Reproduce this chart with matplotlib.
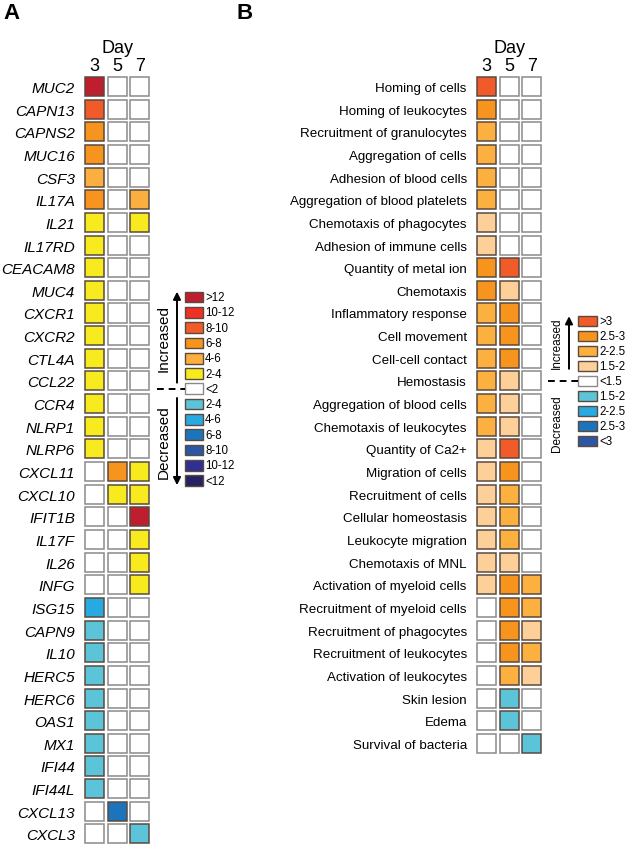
import matplotlib.pyplot as plt
from matplotlib.patches import Rectangle

plt.rcParams['font.family'] = ['Liberation Sans', 'DejaVu Sans']

# ---- data -------------------------------------------------------------
days = ['3', '5', '7']

# panel A: fold-change level, +6 (>12) ... 0 (<2) ... -6 (<12, decreased)
a_genes = ['MUC2', 'CAPN13', 'CAPNS2', 'MUC16', 'CSF3', 'IL17A', 'IL21', 'IL17RD',
           'CEACAM8', 'MUC4', 'CXCR1', 'CXCR2', 'CTL4A', 'CCL22', 'CCR4', 'NLRP1',
           'NLRP6', 'CXCL11', 'CXCL10', 'IFIT1B', 'IL17F', 'IL26', 'INFG', 'ISG15',
           'CAPN9', 'IL10', 'HERC5', 'HERC6', 'OAS1', 'MX1', 'IFI44', 'IFI44L',
           'CXCL13', 'CXCL3']
a_day3 = [6, 4, 3, 3, 2, 3, 1, 1, 1, 1, 1, 1, 1, 1, 1, 1, 1, 0, 0, 0, 0, 0, 0, -2,
          -1, -1, -1, -1, -1, -1, -1, -1, 0, 0]
a_day5 = [0, 0, 0, 0, 0, 0, 0, 0, 0, 0, 0, 0, 0, 0, 0, 0, 0, 3, 1, 0, 0, 0, 0, 0,
          0, 0, 0, 0, 0, 0, 0, 0, -3, 0]
a_day7 = [0, 0, 0, 0, 0, 2, 1, 0, 0, 0, 0, 0, 0, 0, 0, 0, 0, 1, 1, 6, 1, 1, 1, 0,
          0, 0, 0, 0, 0, 0, 0, 0, 0, -1]
a_legend = ['>12', '10-12', '8-10', '6-8', '4-6', '2-4', '<2',
            '2-4', '4-6', '6-8', '8-10', '10-12', '<12']
a_colors = ['#BE1E2D', '#EE3124', '#F15A29', '#F7941D', '#FBAF41', '#F7EA1E', '#FFFFFF',
            '#5BC4D8', '#27AAE1', '#1C75BC', '#2957A4', '#2E3192', '#262261']

# panel B: z-score level, +4 (>3) ... 0 (<1.5) ... -4 (<3, decreased)
b_funcs = ['Homing of cells', 'Homing of leukocytes', 'Recruitment of granulocytes',
           'Aggregation of cells', 'Adhesion of blood cells', 'Aggregation of blood platelets',
           'Chemotaxis of phagocytes', 'Adhesion of immune cells', 'Quantity of metal ion',
           'Chemotaxis', 'Inflammatory response', 'Cell movement', 'Cell-cell contact',
           'Hemostasis', 'Aggregation of blood cells', 'Chemotaxis of leukocytes',
           'Quantity of Ca2+', 'Migration of cells', 'Recruitment of cells',
           'Cellular homeostasis', 'Leukocyte migration', 'Chemotaxis of MNL',
           'Activation of myeloid cells', 'Recruitment of myeloid cells',
           'Recruitment of phagocytes', 'Recruitment of leukocytes',
           'Activation of leukocytes', 'Skin lesion', 'Edema', 'Survival of bacteria']
b_day3 = [4, 3, 2, 2, 2, 2, 1, 1, 3, 3, 2, 2, 2, 2, 2, 2, 1, 1, 1, 1, 1, 1, 1,
          0, 0, 0, 0, 0, 0, 0]
b_day5 = [0, 0, 0, 0, 0, 0, 0, 0, 4, 1, 3, 3, 3, 1, 1, 1, 4, 3, 2, 2, 2, 1, 3,
          3, 3, 3, 2, -1, -1, 0]
b_day7 = [0, 0, 0, 0, 0, 0, 0, 0, 0, 0, 0, 0, 0, 0, 0, 0, 0, 0, 0, 0, 0, 0, 2,
          2, 1, 2, 1, 0, 0, -1]
b_legend = ['>3', '2.5-3', '2-2.5', '1.5-2', '<1.5', '1.5-2', '2-2.5', '2.5-3', '<3']
b_colors = ['#F15A29', '#F7941D', '#FBB040', '#FDD09A', '#FFFFFF',
            '#5BC4D8', '#27AAE1', '#1C75BC', '#2B57A6']

# ---- layout helpers ---------------------------------------------------
W, H = 625, 845
fig = plt.figure(figsize=(W / 100, H / 100), dpi=100)


def px_axes(x0, y0, x1, y1):
    ax = fig.add_axes([x0 / W, 1 - y1 / H, (x1 - x0) / W, (y1 - y0) / H])
    ax.patch.set_alpha(0)
    for sp in ax.spines.values():
        sp.set_visible(False)
    return ax


def edge_of(c):
    return '#8a8a8a' if c == '#FFFFFF' else '#5a4a40'


def heatmap(ax, labels, cols, colors, zero, fs, style):
    n = len(labels)
    s = 0.84
    for j, col in enumerate(cols):
        for i, lev in enumerate(col):
            c = colors[zero - lev]
            ax.add_patch(Rectangle((j - s / 2, i - s / 2), s, s, fc=c,
                                   ec=edge_of(c), lw=1.1))
    ax.set_xlim(-0.5, 2.5)
    ax.set_ylim(n - 0.5, -0.5)
    ax.set_yticks(range(n), labels, fontsize=fs, style=style)
    ax.set_xticks(range(3), days, fontsize=13)
    ax.xaxis.tick_top()
    ax.xaxis.set_label_position('top')
    ax.set_xlabel('Day', fontsize=13, labelpad=4)
    ax.tick_params(axis='y', length=0, pad=6)
    ax.tick_params(axis='x', length=0, pad=0.5)


def legend(ax, labels, colors, zero, bx, bw, bh, fs, ax_x, tx, inc, dec, dash, tfs):
    n = len(labels)
    ax.set_ylim(n - 0.5, -0.5)
    for k, (lab, c) in enumerate(zip(labels, colors)):
        ax.add_patch(Rectangle((bx, k - bh / 2), bw, bh, fc=c, ec=edge_of(c), lw=1.0))
        ax.text(bx + bw + 2, k, lab, fontsize=fs, va='center', ha='left')
    ap = dict(arrowstyle='-|>', lw=1.4, color='black', mutation_scale=11,
              shrinkA=0, shrinkB=0)
    ax.annotate('', xy=(ax_x, inc[0]), xytext=(ax_x, inc[1]), arrowprops=ap)
    ax.annotate('', xy=(ax_x, dec[1]), xytext=(ax_x, dec[0]), arrowprops=ap)
    ax.plot(dash, [zero, zero], color='black', lw=1.4, ls=(0, (3.5, 2.5)))
    ax.text(tx, (inc[0] + inc[1]) / 2, 'Increased', rotation=90, fontsize=tfs,
            ha='center', va='center')
    ax.text(tx, (dec[0] + dec[1]) / 2, 'Decreased', rotation=90, fontsize=tfs,
            ha='center', va='center')


pitch = 22.65

# ---- panel A ----------------------------------------------------------
axA = px_axes(83.2, 87.5 - pitch / 2, 83.2 + 3 * 22.6, 87.5 + (len(a_genes) - 0.5) * pitch)
heatmap(axA, a_genes, [a_day3, a_day5, a_day7], a_colors, 6, 11, 'italic')

lp = 15.3
c0 = 298
axLA = px_axes(150, c0 - lp / 2, 245, c0 + (len(a_legend) - 0.5) * lp)
axLA.set_xlim(150, 245)
axLA.set_xticks([])
axLA.set_yticks([])
legend(axLA, a_legend, a_colors, 6, 185, 18, 0.7, 8.3, 177, 164,
       (-0.35, 5.6), (6.6, 12.3), (157, 185), 11)

# ---- panel B ----------------------------------------------------------
axB = px_axes(475.2, 87.5 - pitch / 2, 475.2 + 3 * 22.7, 87.5 + (len(b_funcs) - 0.5) * pitch)
heatmap(axB, b_funcs, [b_day3, b_day5, b_day7], b_colors, 4, 9.6, 'normal')

lp = 15.04
c0 = 321.7
axLB = px_axes(545, c0 - lp / 2, 625, c0 + (len(b_legend) - 0.5) * lp)
axLB.set_xlim(545, 625)
axLB.set_xticks([])
axLB.set_yticks([])
legend(axLB, b_legend, b_colors, 4, 578, 19, 0.68, 8.3, 569, 557,
       (-0.3, 3.2), (4.75, 8.8), (548, 578), 8.5)

fig.text(3 / W, 1 - 3 / H, 'A', fontsize=16, fontweight='bold', va='top', ha='left')
fig.text(236 / W, 1 - 3 / H, 'B', fontsize=16, fontweight='bold', va='top', ha='left')

fig.savefig('out.png', dpi=100)
